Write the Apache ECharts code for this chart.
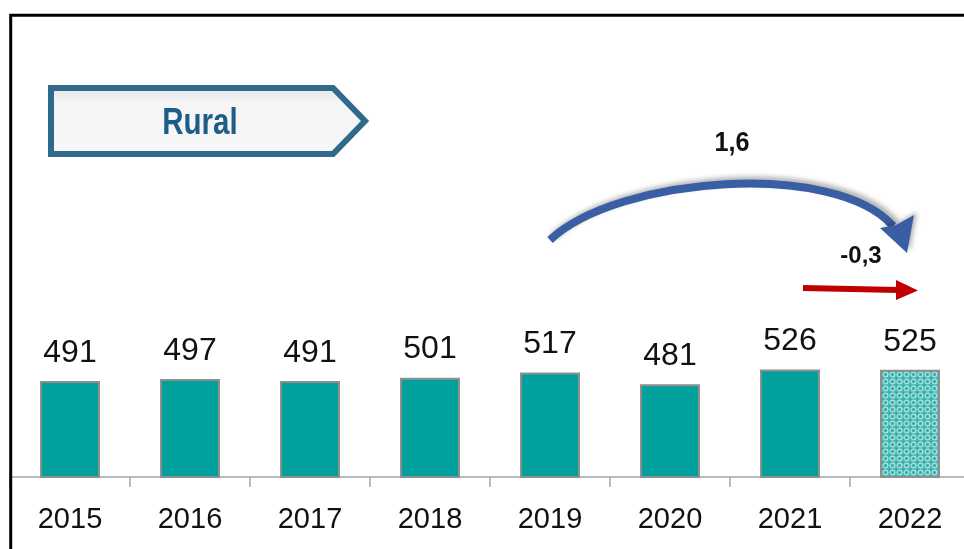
<!DOCTYPE html>
<html>
<head>
<meta charset="utf-8">
<script src="https://cdn.jsdelivr.net/npm/echarts@6/dist/echarts.min.js"></script>
<style>
  html, body { margin: 0; padding: 0; background: #fff; }
  #chart { width: 964px; height: 549px; }
</style>
</head>
<body>
<div id="chart"></div>
<script>
const years = ["2015", "2016", "2017", "2018", "2019", "2020", "2021", "2022"];
const rural = [491, 497, 491, 501, 517, 481, 526, 525];
const panelTitle = "Rural";
const longChange = "1,6";
const lastChange = "-0,3";

// dotted fill for the projected year
function makePattern() {
  const c = document.createElement("canvas");
  c.width = 7;
  c.height = 7;
  const ctx = c.getContext("2d");
  ctx.fillStyle = "#45b6b1";
  ctx.fillRect(0, 0, 7, 7);
  ctx.strokeStyle = "#aee2df";
  ctx.lineWidth = 1.2;
  ctx.beginPath();
  ctx.arc(3.5, 3.5, 2.4, 0, Math.PI * 2);
  ctx.stroke();
  ctx.fillStyle = "#1e9e99";
  ctx.fillRect(3, 3, 1, 1);
  ctx.fillRect(0, 0, 1, 1);
  return c;
}

const barData = rural.map((v, i) => {
  if (i === rural.length - 1) {
    return { value: v, itemStyle: { color: { image: makePattern(), repeat: "repeat" } } };
  }
  return v;
});

const chart = echarts.init(document.getElementById("chart"));

const blue = "#3a5ea3";
const arcShadow = { shadowBlur: 5, shadowColor: "rgba(0,0,0,0.3)", shadowOffsetX: 3, shadowOffsetY: -3 };

chart.setOption({
  animation: false,
  grid: { left: 10, right: -6, top: 345, bottom: 72, outerBoundsMode: "none" },
  xAxis: {
    type: "category",
    data: years,
    axisLine: { lineStyle: { color: "#a6a6a6", width: 1.5 } },
    axisTick: { show: true, interval: 0, length: 10, lineStyle: { color: "#a6a6a6", width: 1.5 } },
    axisLabel: {
      interval: 0,
      margin: 28,
      color: "#111",
      fontSize: 29,
      fontFamily: "Liberation Sans"
    }
  },
  yAxis: {
    type: "value",
    min: 200,
    max: 600,
    show: false,
    splitLine: { show: false }
  },
  series: [
    {
      type: "bar",
      data: barData,
      barWidth: 60,
      itemStyle: {
        color: "#00a19c",
        borderColor: "#8f8f8f",
        borderWidth: 2
      },
      label: {
        show: true,
        position: "top",
        distance: 12,
        color: "#111",
        fontSize: 32,
        fontFamily: "Liberation Sans"
      }
    }
  ],
  graphic: [
    {
      type: "rect",
      shape: { x: 10.7, y: 15.3, width: 1000, height: 600 },
      style: { fill: "none", stroke: "#000", lineWidth: 3 },
      z: 10
    },
    {
      type: "polygon",
      shape: { points: [[51, 88], [333, 88], [365, 121], [333, 154], [51, 154]] },
      style: {
        fill: {
          type: "linear", x: 0, y: 0, x2: 0, y2: 1,
          colorStops: [{ offset: 0, color: "#e2e2e2" }, { offset: 0.25, color: "#f5f5f5" }, { offset: 1, color: "#f7f7f7" }]
        },
        stroke: "#2f6a8a",
        lineWidth: 6,
        lineJoin: "miter"
      },
      z: 5
    },
    {
      type: "text",
      x: 200,
      y: 124,
      scaleX: 0.82,
      style: {
        text: panelTitle,
        fill: "#1e5d8a",
        font: "bold 36px 'Liberation Sans'",
        textAlign: "center",
        textVerticalAlign: "middle"
      },
      z: 6
    },
    {
      type: "bezierCurve",
      shape: { x1: 550, y1: 240, cpx1: 618, cpy1: 176, cpx2: 835, cpy2: 160, x2: 893, y2: 226 },
      style: Object.assign({ stroke: blue, lineWidth: 8, fill: "none" }, arcShadow),
      z: 5
    },
    {
      type: "polygon",
      shape: { points: [[907, 253], [880, 228], [896, 225], [914, 215]] },
      style: Object.assign({ fill: blue }, arcShadow),
      z: 5
    },
    {
      type: "text",
      x: 732,
      y: 143,
      scaleX: 0.9,
      style: {
        text: longChange,
        fill: "#111",
        font: "bold 28px 'Liberation Sans'",
        textAlign: "center",
        textVerticalAlign: "middle"
      },
      z: 6
    },
    {
      type: "line",
      shape: { x1: 803, y1: 288, x2: 899, y2: 290 },
      style: { stroke: "#c00000", lineWidth: 6 },
      z: 5
    },
    {
      type: "polygon",
      shape: { points: [[896, 280], [918, 290.5], [896, 300]] },
      style: { fill: "#c00000" },
      z: 5
    },
    {
      type: "text",
      x: 861,
      y: 256,
      style: {
        text: lastChange,
        fill: "#111",
        font: "bold 24px 'Liberation Sans'",
        textAlign: "center",
        textVerticalAlign: "middle"
      },
      z: 6
    }
  ]
});
</script>
</body>
</html>
